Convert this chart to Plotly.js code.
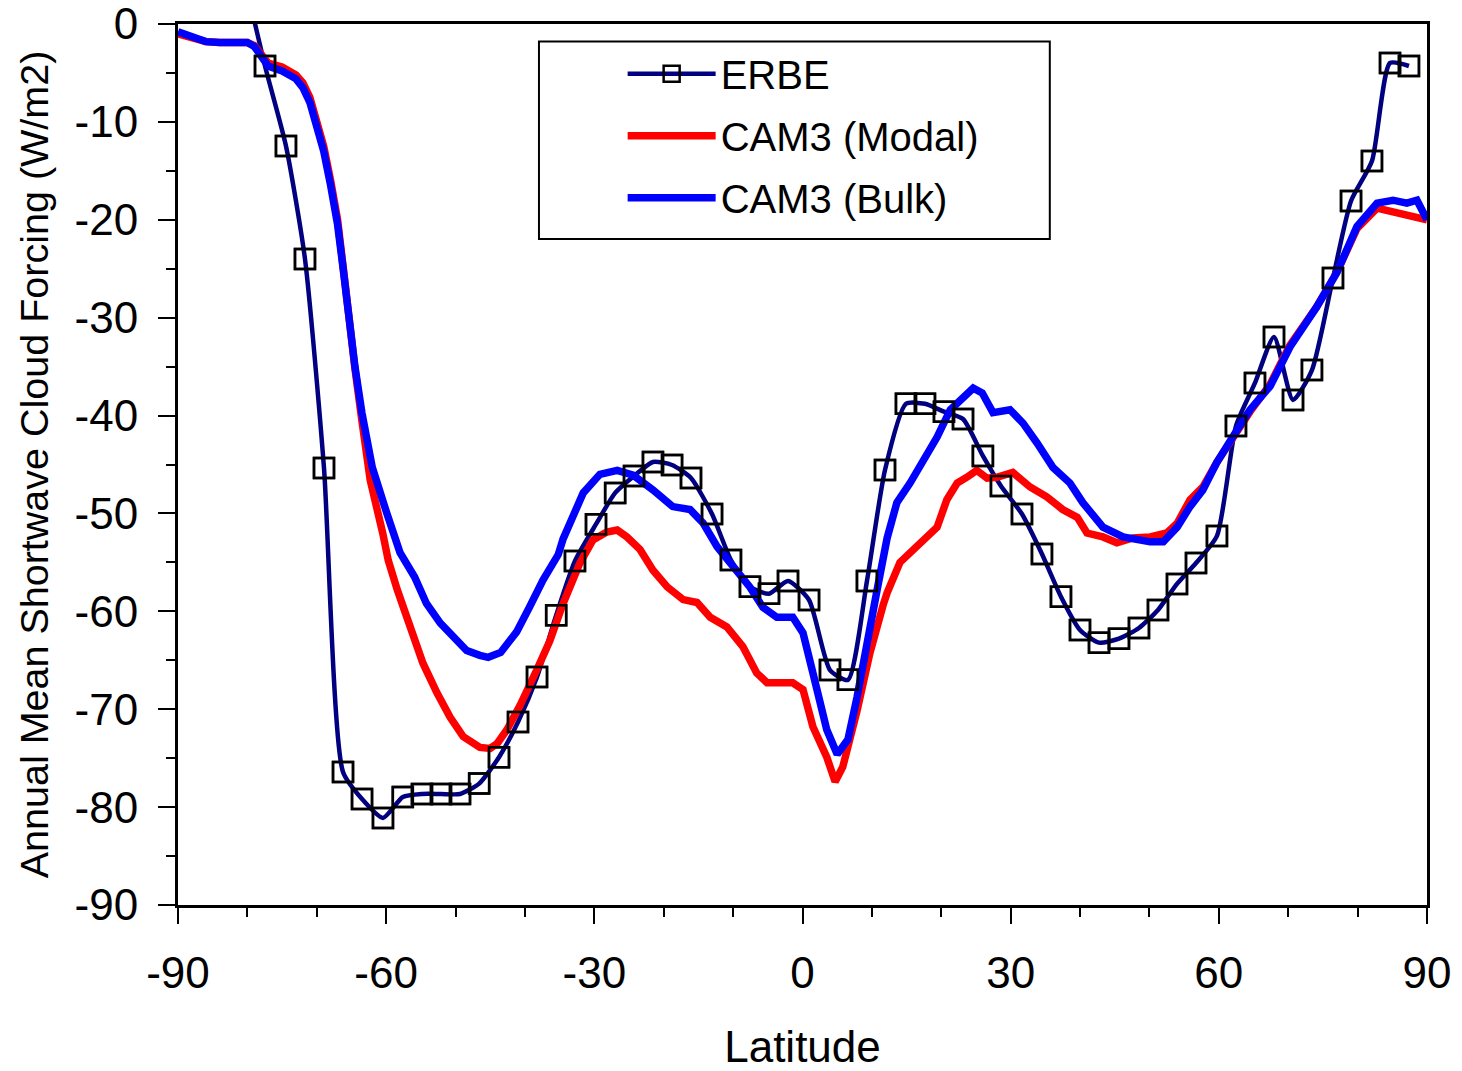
<!DOCTYPE html>
<html>
<head>
<meta charset="utf-8">
<script src="https://cdn.plot.ly/plotly-3.0.1.min.js"></script>
<style>
  html, body { margin: 0; padding: 0; background: #ffffff; }
  #chart { width: 1462px; height: 1071px; }
</style>
</head>
<body>
<div id="chart"></div>
<script>
// ---------------- data ----------------
const erbeLat = [-80.2, -77.46, -74.44, -71.7, -68.96, -66.22, -63.48, -60.46, -57.6, -54.84,
  -52.1, -49.36, -46.6, -43.74, -41.0, -38.26, -35.5, -32.79, -29.76, -27.0,
  -24.28, -21.55, -18.8, -16.07, -13.04, -10.31, -7.57, -4.83, -2.09, 0.94,
  3.96, 6.55, 9.29, 11.89, 14.91, 17.65, 20.39, 23.13, 26.0, 28.6,
  31.63, 34.51, 37.25, 39.99, 42.73, 45.61, 48.49, 51.23, 53.97, 56.71,
  59.73, 62.47, 65.21, 67.95, 70.69, 73.42, 76.45, 79.05, 82.07, 84.67, 87.4];
const erbeVal = [4.0, -4.29, -12.46, -24.0, -45.36, -76.41, -79.17, -81.1, -78.97, -78.66,
  -78.66, -78.66, -77.6, -74.9, -71.3, -66.7, -60.4, -54.86, -51.1, -47.9,
  -46.17, -44.74, -45.05, -46.38, -50.06, -54.76, -57.5, -58.2, -56.9, -58.84,
  -66.0, -67.0, -56.9, -45.56, -38.8, -38.8, -39.6, -40.35, -44.13, -47.2,
  -50.06, -54.14, -58.5, -61.9, -63.2, -62.8, -61.7, -59.86, -57.2, -55.06,
  -52.3, -41.07, -36.67, -31.97, -38.41, -35.35, -25.95, -18.08, -14.0, -3.98, -4.29];

const modalLat = [-90, -88, -86, -84, -82, -80, -79, -78, -77, -75, -73, -72, -71, -70, -69, -68, -67,
  -66.2, -65.5, -64.5, -63.5, -62.3, -60.5, -59.7, -58.4, -56.6, -54.7, -52.7, -50.8, -48.9,
  -46.5, -45.0, -44.0, -42.6, -40.7, -38.3, -36.4, -34.5, -32.1, -30.2, -28.2, -26.7, -25.3,
  -23.4, -21.55, -19.5, -17.2, -15.2, -13.3, -10.9, -8.6, -6.6, -5.1, -1.4, 0.07, 1.5, 3.5,
  4.7, 5.8, 7.85, 9.7, 11.6, 12.2, 14.05, 16.5, 19.4, 20.8, 22.3, 23.7, 25.1, 26.6, 28.0,
  30.3, 32.8, 35.2, 37.5, 39.6, 41.0, 43.3, 45.3, 47.6, 50.1, 52.5, 54.0, 55.85, 57.7,
  59.7, 62.0, 64.5, 67.4, 70.25, 74.1, 77.0, 79.9, 82.8, 85.1, 87.1, 88.55, 90];
const modalVal = [-1.0, -1.4, -1.8, -1.9, -1.9, -1.9, -2.2, -3.2, -4.0, -4.4, -5.2, -6.0, -7.5, -10.0, -12.5, -16.0, -20.0,
  -24.8, -29.5, -35.2, -40.5, -46.6, -52.0, -54.8, -57.8, -61.6, -65.3, -68.3, -70.8, -72.8,
  -73.9, -74.0, -73.5, -72.1, -69.6, -66.0, -63.0, -59.2, -55.1, -52.7, -51.9, -51.7, -52.4,
  -53.7, -55.8, -57.5, -58.8, -59.1, -60.6, -61.6, -63.6, -66.3, -67.3, -67.3, -68.0, -71.8, -74.9,
  -77.4, -75.9, -70.2, -64.3, -59.4, -58.1, -55.0, -53.4, -51.4, -48.6, -46.9, -46.3, -45.6, -46.4, -46.3,
  -45.8, -47.3, -48.3, -49.6, -50.4, -52.0, -52.4, -53.0, -52.5, -52.4, -52.0, -51.0, -48.6, -47.3,
  -44.8, -42.2, -39.6, -36.8, -32.8, -28.9, -25.4, -20.9, -18.8, -19.2, -19.5, -19.6, -20.0];

const bulkLat = [-90, -88, -86, -84, -82, -80, -79, -78, -77, -75, -73, -72, -71, -70, -69, -68, -67,
  -66.2, -65.5, -64.5, -63.5, -62.0, -59.9, -58.0, -55.9, -54.2, -52.2, -50.4, -48.4, -46.5,
  -45.3, -43.5, -41.2, -39.3, -37.4, -35.2, -34.5, -31.6, -29.2, -26.7, -24.4, -21.55, -18.7,
  -16.2, -14.3, -12.3, -10.0, -7.6, -5.7, -3.7, -1.4, 0.07, 1.5, 3.5, 5.0, 6.55, 7.85, 9.3,
  10.7, 12.2, 13.6, 15.5, 17.4, 19.4, 21.3, 23.1, 24.6, 25.9, 27.45, 29.9, 31.8, 33.8, 36.1,
  38.55, 40.4, 43.3, 46.2, 50.1, 52.0, 54.0, 55.85, 57.7, 59.7, 62.0, 64.5, 67.4, 70.25,
  74.1, 77.0, 79.9, 82.8, 85.1, 87.1, 88.55, 90];
const bulkVal = [-0.8, -1.3, -1.8, -1.9, -1.9, -1.9, -2.3, -3.3, -4.3, -4.8, -5.6, -6.5, -8.0, -10.5, -13.0, -16.5, -20.5,
  -25.0, -29.5, -35.0, -39.7, -45.3, -50.0, -54.0, -56.5, -59.2, -61.2, -62.6, -64.0, -64.5,
  -64.7, -64.2, -62.1, -59.5, -56.8, -54.2, -52.6, -47.9, -46.0, -45.6, -46.1, -47.6, -49.3,
  -49.6, -51.0, -53.4, -55.5, -57.5, -59.6, -60.6, -60.6, -62.2, -66.3, -72.1, -74.6, -73.1, -68.8, -62.9,
  -58.0, -52.5, -48.9, -46.9, -44.5, -42.2, -39.4, -38.1, -37.2, -37.7, -39.7, -39.4, -40.8, -42.8, -45.3,
  -46.9, -48.9, -51.4, -52.4, -52.9, -52.9, -51.4, -49.3, -47.6, -44.8, -42.2, -39.4, -37.0, -33.0,
  -28.9, -25.4, -20.7, -18.3, -18.0, -18.3, -18.0, -20.0];

const seriesNames = ['ERBE', 'CAM3 (Modal)', 'CAM3 (Bulk)'];
const xTickVals = [-90, -60, -30, 0, 30, 60, 90];
const xTickText = ['-90', '-60', '-30', '0', '30', '60', '90'];
const yTickVals = [0, -10, -20, -30, -40, -50, -60, -70, -80, -90];
const yTickText = ['0', '-10', '-20', '-30', '-40', '-50', '-60', '-70', '-80', '-90'];

// ---------------- styles ----------------
const FONT = '"Liberation Sans", Arial, Helvetica, sans-serif';
const NAVY = '#000080';

const traces = [
  { // ERBE line (legend entry)
    x: erbeLat, y: erbeVal, name: seriesNames[0], type: 'scatter', mode: 'lines+markers',
    line: { color: NAVY, width: 4.5, shape: 'spline', smoothing: 0.6 },
    marker: { symbol: 'square-open', size: 20, color: '#000000', line: { width: 2.5, color: '#000000' } },
    legendgroup: 'g1'
  },
  {
    x: modalLat, y: modalVal, name: seriesNames[1], type: 'scatter', mode: 'lines',
    line: { color: '#ff0000', width: 7.5 }, legendgroup: 'g2'
  },
  {
    x: bulkLat, y: bulkVal, name: seriesNames[2], type: 'scatter', mode: 'lines',
    line: { color: '#0000ff', width: 7.5 }, legendgroup: 'g3'
  },
  { // ERBE markers on top
    x: erbeLat, y: erbeVal, name: seriesNames[0], type: 'scatter', mode: 'markers',
    marker: { symbol: 'square-open', size: 20, color: '#000000', line: { width: 2.5, color: '#000000' } },
    showlegend: false, hoverinfo: 'skip'
  }
];

const layout = {
  width: 1462, height: 1071,
  margin: { l: 178, r: 35, t: 24, b: 166 },
  paper_bgcolor: '#ffffff', plot_bgcolor: '#ffffff',
  font: { family: FONT, color: '#000000', size: 44 },
  showlegend: true,
  legend: {
    x: 0.356, y: 0.9805, xanchor: 'left', yanchor: 'top',
    bgcolor: 'rgba(0,0,0,0)', borderwidth: 0,
    font: { family: FONT, size: 40, color: '#000000' },
    itemwidth: 88, tracegroupgap: 7, itemclick: false
  },
  xaxis: {
    range: [-90, 90], tickmode: 'array', tickvals: xTickVals, ticktext: xTickText,
    ticks: 'outside', ticklen: 16, tickwidth: 2, tickcolor: '#000000',
    minor: { tickmode: 'linear', tick0: -90, dtick: 10, ticks: 'outside', ticklen: 9, tickwidth: 2, tickcolor: '#000000', showgrid: false },
    showline: true, linewidth: 3, linecolor: '#000000', mirror: true,
    showgrid: false, zeroline: false,
    tickfont: { family: FONT, size: 44, color: '#000000' },
    ticklabelstandoff: 11, ticklabeloverflow: 'allow',
    title: { text: 'Latitude', font: { family: FONT, size: 44, color: '#000000' }, standoff: 45 },
    automargin: false
  },
  yaxis: {
    range: [-90, 0], tickmode: 'array', tickvals: yTickVals, ticktext: yTickText,
    ticks: 'outside', ticklen: 17, tickwidth: 2, tickcolor: '#000000',
    minor: { tickmode: 'linear', tick0: 0, dtick: 5, ticks: 'outside', ticklen: 9, tickwidth: 2, tickcolor: '#000000', showgrid: false },
    showline: true, linewidth: 3, linecolor: '#000000', mirror: true,
    showgrid: false, zeroline: false,
    tickfont: { family: FONT, size: 44, color: '#000000' },
    ticklabelstandoff: 11, ticklabeloverflow: 'allow',
    title: { text: 'Annual Mean Shortwave Cloud Forcing (W/m2)', font: { family: FONT, size: 39.5, color: '#000000' }, standoff: 14 },
    automargin: false
  },
  shapes: [
    { type: 'rect', xref: 'paper', yref: 'paper', x0: 0.289, x1: 0.698, y0: 0.756, y1: 0.980,
      line: { color: '#000000', width: 2 }, fillcolor: 'rgba(0,0,0,0)', layer: 'above' }
  ]
};

Plotly.newPlot('chart', traces, layout, { displayModeBar: false, staticPlot: true });
</script>
</body>
</html>
